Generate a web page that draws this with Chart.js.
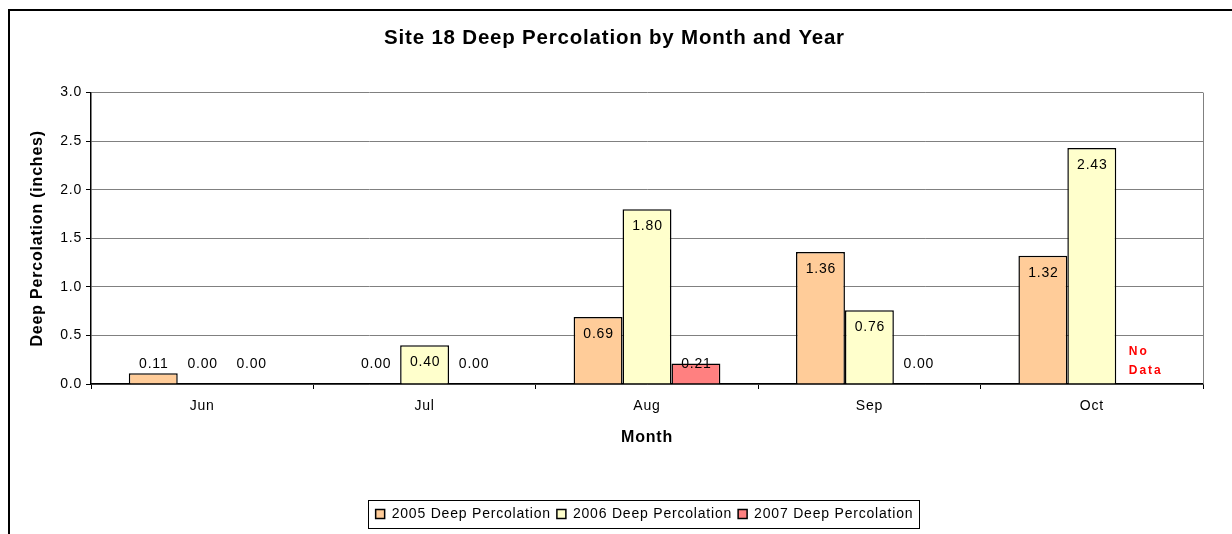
<!DOCTYPE html>
<html>
<head>
<meta charset="utf-8">
<script src="https://cdn.jsdelivr.net/npm/chart.js@4/dist/chart.umd.min.js"></script>
<style>
  html, body { margin: 0; padding: 0; background: #fff; overflow: hidden; }
  #wrap { position: relative; width: 1232px; height: 534px; }
  #frame { position: absolute; left: 8px; top: 9px; width: 1400px; height: 700px; border: 2px solid #000; box-sizing: border-box; }
  canvas { position: absolute; left: 0; top: 0; }
</style>
</head>
<body>
<div id="wrap">
  <div id="frame"></div>
  <canvas id="chart" width="1232" height="534"></canvas>
</div>
<script>
// chart data
const months = ['Jun', 'Jul', 'Aug', 'Sep', 'Oct'];
const perc2005 = [0.11, 0.00, 0.69, 1.36, 1.32];
const perc2006 = [0.00, 0.40, 1.80, 0.76, 2.43];
const perc2007 = [0.00, 0.00, 0.21, 0.00, null];
const yTicks = [0, 0.5, 1.0, 1.5, 2.0, 2.5, 3.0];
const noDataText = ['No', 'Data'];

const FONT = 'Arial, "Liberation Sans", sans-serif';
const LS = '0.8px';

// excel text looks a bit wider, so spread letters a little
const spacing = {
  id: 'spacing',
  beforeUpdate(chart) { chart.ctx.letterSpacing = LS; },
  beforeLayout(chart) { chart.ctx.letterSpacing = LS; },
  afterLayout(chart) {
    // legend sits a bit right of centre in the original
    chart.legend.left += 30;
    chart.legend.right += 30;
  },
  beforeDraw(chart) { chart.ctx.letterSpacing = LS; }
};

// labels inside the top of each bar, kept above the baseline
const barLabels = {
  id: 'barLabels',
  afterDatasetsDraw(chart) {
    const ctx = chart.ctx;
    const base = chart.scales.y.getPixelForValue(0);
    ctx.save();
    ctx.font = '14px ' + FONT;
    ctx.fillStyle = '#000';
    ctx.textAlign = 'center';
    ctx.textBaseline = 'middle';
    chart.data.datasets.forEach((ds, i) => {
      const meta = chart.getDatasetMeta(i);
      meta.data.forEach((el, j) => {
        const v = ds.data[j];
        if (v === null || v === undefined) {
          // missing value -> red "No Data"
          let x = el.x;
          if (!isFinite(x)) {
            const prev = chart.getDatasetMeta(i - 1).data[j];
            x = prev.x + prev.width;
          }
          ctx.save();
          ctx.fillStyle = '#ff0000';
          ctx.font = 'bold 12px ' + FONT;
          ctx.textAlign = 'left';
          ctx.letterSpacing = '2px';
          ctx.fillText(noDataText[0], x - 12, base - 32);
          ctx.fillText(noDataText[1], x - 12, base - 13);
          ctx.restore();
          return;
        }
        const y = Math.min(el.y + 17, base - 20);
        ctx.fillText(v.toFixed(2), el.x + 0.5, y);
      });
    });
    ctx.restore();
  }
};

// plot area right border + legend frame
const frames = {
  id: 'frames',
  beforeDatasetsDraw(chart) {
    const a = chart.chartArea;
    const ctx = chart.ctx;
    ctx.save();
    ctx.strokeStyle = '#808080';
    ctx.lineWidth = 1;
    ctx.beginPath();
    ctx.moveTo(Math.round(a.right) + 0.5, a.top);
    ctx.lineTo(Math.round(a.right) + 0.5, a.bottom);
    ctx.stroke();
    ctx.restore();
  },
  afterDraw(chart) {
    const boxes = chart.legend.legendHitBoxes;
    if (!boxes || !boxes.length) return;
    const l = Math.min(...boxes.map(b => b.left)) - 8;
    const r = Math.max(...boxes.map(b => b.left + b.width)) + 5;
    const t = Math.min(...boxes.map(b => b.top)) - 7;
    const bt = Math.max(...boxes.map(b => b.top + b.height)) + 7;
    const ctx = chart.ctx;
    ctx.save();
    ctx.strokeStyle = '#000';
    ctx.lineWidth = 1;
    ctx.strokeRect(Math.round(l) + 0.5, Math.round(t) + 0.5, Math.round(r - l), Math.round(bt - t));
    ctx.restore();
  }
};

new Chart('chart', {
  type: 'bar',
  data: {
    labels: months,
    datasets: [
      { label: '2005 Deep Percolation', data: perc2005, backgroundColor: '#FFCC99', borderColor: '#000', borderWidth: 1.5 },
      { label: '2006 Deep Percolation', data: perc2006, backgroundColor: '#FFFFCC', borderColor: '#000', borderWidth: 1.5 },
      { label: '2007 Deep Percolation', data: perc2007, backgroundColor: '#FF8080', borderColor: '#000', borderWidth: 1.5 }
    ]
  },
  options: {
    responsive: false,
    animation: false,
    datasets: { bar: { categoryPercentage: 0.66, barPercentage: 1.0 } },
    layout: { padding: { left: 26, right: 29, top: 0, bottom: 3 } },
    plugins: {
      title: {
        display: true,
        text: 'Site 18 Deep Percolation by Month and Year',
        color: '#000',
        font: { family: FONT, size: 20.5, weight: 'bold' },
        padding: { top: 26, bottom: 42 }
      },
      legend: {
        position: 'bottom',
        labels: {
          color: '#000',
          font: { family: FONT, size: 14 },
          boxWidth: 9,
          boxHeight: 9,
          padding: 6
        }
      },
      tooltip: { enabled: false }
    },
    scales: {
      x: {
        afterFit(scale) { scale.height = 117; },
        grid: { drawOnChartArea: false, drawTicks: true, tickLength: 5, color: '#000', tickColor: '#000' },
        border: { color: '#000', width: 1.5 },
        ticks: { color: '#000', font: { family: FONT, size: 14 }, padding: 9 },
        title: { display: true, text: 'Month', color: '#000', font: { family: FONT, size: 16, weight: 'bold' }, padding: { top: 0, bottom: 54 } }
      },
      y: {
        min: 0,
        max: 3.0,
        afterBuildTicks(scale) { scale.ticks = yTicks.map(v => ({ value: v })); },
        afterFit(scale) { scale.width = 65; },
        grid: { color: '#808080', lineWidth: 1, tickLength: 5, tickColor: '#000' },
        border: { color: '#000', width: 1.5 },
        ticks: { color: '#000', font: { family: FONT, size: 14 }, padding: 4, callback: v => Number(v).toFixed(1) },
        title: { display: true, text: 'Deep Percolation (inches)', color: '#000', font: { family: FONT, size: 16, weight: 'bold' }, padding: { top: 2, bottom: 0 } }
      }
    }
  },
  plugins: [spacing, barLabels, frames]
});
</script>
</body>
</html>
